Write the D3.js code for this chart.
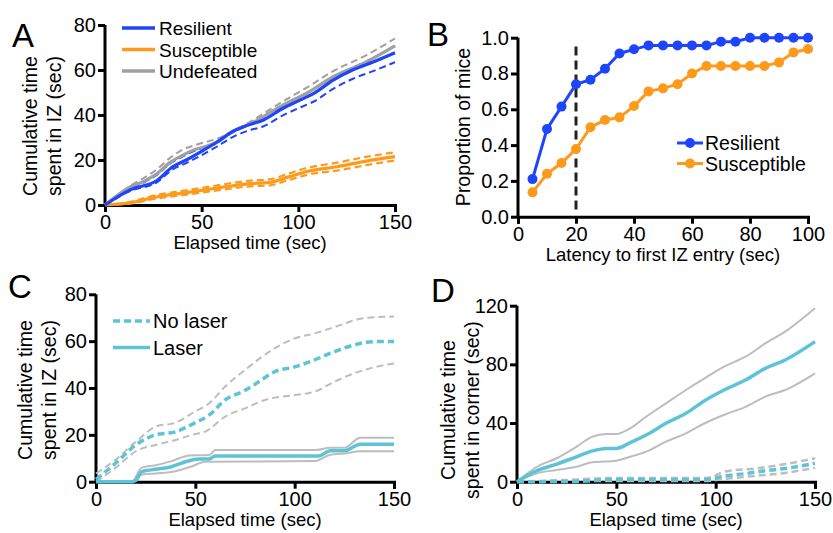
<!DOCTYPE html>
<html>
<head>
<style>
  body { margin: 0; background: #fff; }
  text { font-family: "Liberation Sans", Arial, sans-serif; fill: #000; }
</style>
</head>
<body>
<script src="https://d3js.org/d3.v7.min.js"></script>
<script>

const width = 833;
const height = 533;

const BLUE = '#1f45fc';
const ORANGE = '#fd9a1c';
const GRAY = '#a0a0a0';
const LGRAY = '#bdbdbd';
const CYAN = '#5cc4d6';

// ---- panel A: cumulative time in IZ, [time, value]
const aResilient = [[0,0],[13,6.7],[27,11],[35,17],[42,20],[51,24.4],[58,28],[66,32.6],[74,35.5],[82,37.8],[92,43],[101,46.7],[108,49.6],[118,55.5],[128,60],[139,63.7],[150,67.7]];
const aResilientLo = [[0,0],[13,6.2],[27,10.2],[35,15.8],[42,18.6],[51,22.6],[58,26],[66,30.2],[74,33],[82,35],[92,39.8],[101,43.4],[108,46],[118,51.6],[128,56],[139,59.6],[150,63.5]];
const aResilientHi = [[0,0],[13,7.4],[20,10],[27,13.5],[33,18],[40,21.5],[46,24],[52,25.8],[58,28],[66,32.6],[75,36.2],[92,44.4],[105,50],[118,57],[135,63.7],[150,70.6]];
const aUndefeated = [[0,0],[13,8],[20,10.5],[27,14],[33,18.5],[40,22],[46,24.5],[52,26],[58,28],[66,32.8],[75,36],[92,44.4],[105,50],[118,57],[135,63.5],[150,70.7]];
const aUndefeatedHi = [[0,0],[13,8.5],[20,12],[27,16],[33,20.5],[40,24.5],[48,27],[58,29.5],[75,37],[92,46],[105,52.5],[118,59.5],[135,66.5],[150,74]];
const aUndefeatedLo = [[0,0],[13,6.8],[27,11],[35,17],[42,20],[51,24.4],[58,27.6],[66,32.2],[74,35.3],[82,37.6],[92,42.8],[101,46.5],[108,49.4],[118,55.3],[128,59.8],[139,63.5],[150,67.5]];
const aSusceptible = [[0,0],[13,1],[26,3.5],[40,5.3],[50,6.5],[60,7.8],[75,9.5],[85,10],[95,12.5],[105,15],[120,17],[135,19.5],[150,21.5]];
const aSusceptibleHi = [[0,0],[13,1.4],[26,4.3],[40,6.3],[50,7.6],[60,9],[75,10.8],[85,11.4],[95,14],[105,16.6],[120,18.8],[135,21.4],[150,23.4]];
const aSusceptibleLo = [[0,0],[13,0.6],[26,2.8],[40,4.4],[50,5.5],[60,6.7],[75,8.3],[85,8.7],[95,11.1],[105,13.5],[120,15.3],[135,17.7],[150,19.8]];

// ---- panel B: proportion of mice by latency
const bLatency = [5,10,15,20,25,30,35,40,45,50,55,60,65,70,75,80,85,90,95,100];
const bResilient = [0.21,0.49,0.615,0.74,0.765,0.827,0.912,0.935,0.957,0.957,0.957,0.957,0.957,0.978,0.978,1,1,1,1,1];
const bSusceptible = [0.136,0.24,0.30,0.378,0.50,0.54,0.555,0.618,0.70,0.717,0.74,0.80,0.842,0.842,0.842,0.842,0.842,0.862,0.918,0.937];

// ---- panel C: cumulative time in IZ, laser vs no laser
const cNoLaser = [[0,1],[10,8],[20,15.7],[30,20],[40,21.3],[50,25.2],[57,28.5],[65,34.9],[75,39],[82,42.7],[90,47],[100,49],[110,52],[120,55.5],[130,58.4],[140,59.8],[150,59.8]];
const cNoLaserHi = [[0,3.5],[10,9.5],[20,17],[30,23.5],[40,25.2],[50,30],[57,33.5],[65,40.6],[75,47.7],[90,57],[100,61.2],[110,63.3],[120,66],[135,69.8],[150,70.5]];
const cNoLaserLo = [[0,0],[10,6],[20,13],[30,15.7],[40,17.8],[50,20.4],[55,21.4],[65,27.8],[75,31.3],[85,34.9],[100,37],[110,38.4],[120,42.7],[135,47.7],[150,50.5]];
const cLaser = [[0,0],[18,0],[20,0.5],[23,4.3],[30,5.3],[38,6.4],[45,8.5],[52,9.7],[57,9.7],[60,11],[112,11],[118,13.2],[125,13.2],[133,16],[150,16]];
const cLaserHi = [[0,0],[18,0],[23,6],[30,7],[38,8.8],[47,11.2],[57,11.4],[60,13.5],[110,13.5],[118,14.5],[125,14.5],[133,18.8],[150,18.8]];
const cLaserLo = [[0,0],[18,0],[23,3],[30,3.5],[40,4.5],[48,6.5],[55,8.5],[110,8.8],[118,11.5],[125,12],[133,13],[150,13]];

// ---- panel D: cumulative time in corner
const dLaser = [[0,0],[10,7.5],[20,12],[30,17],[38,21],[45,22.7],[50,22.7],[57,26.6],[65,31.8],[75,39.8],[85,46.6],[95,55.7],[105,63],[115,69.3],[125,77.3],[135,83],[150,95.5]];
const dLaserHi = [[0,0],[10,10.2],[20,16],[30,23.9],[38,30.7],[45,32.5],[50,32.5],[57,36.4],[65,44.3],[75,53.4],[85,62.5],[95,71],[105,78.9],[115,85.2],[125,94.3],[135,102.3],[150,118.2]];
const dLaserLo = [[0,0],[10,5.7],[20,8],[30,10.2],[38,13.2],[50,14.3],[57,17],[65,20.5],[75,27.3],[85,33],[95,40.2],[105,46],[115,51],[125,58],[135,62.5],[150,73.9]];
const dNoLaser = [[0,0],[30,0.2],[40,1],[50,1.5],[95,1.5],[105,4],[115,5.5],[125,7.5],[135,9],[150,12.5]];
const dNoLaserHi = [[0,0],[30,1.5],[45,2.5],[95,2.5],[105,7],[120,9],[135,12],[150,16]];
const dNoLaserLo = [[0,0],[40,0.5],[95,0.5],[105,2],[120,4],[135,6],[150,9.5]];

const timeTicks = [0, 50, 100, 150];

const svg = d3.select('body')
              .append('svg')
              .attr('width', width)
              .attr('height', height);

// draws axes + titles for one panel, returns scales
const panel = (opt) => {
  const x = d3.scaleLinear().domain(opt.xd).range(opt.xr);
  const y = d3.scaleLinear().domain(opt.yd).range(opt.yr);
  const g = svg.append('g');

  const xa = g.append('g')
    .attr('transform', `translate(0,${opt.yr[0]})`)
    .call(d3.axisBottom(x).tickValues(opt.xt).tickSize(7).tickPadding(3).tickFormat(opt.xf || d3.format('d')));
  const ya = g.append('g')
    .attr('transform', `translate(${opt.xr[0]},0)`)
    .call(d3.axisLeft(y).tickValues(opt.yt).tickSize(7).tickPadding(2).tickFormat(opt.yf || d3.format('d')));
  [xa, ya].forEach(a => {
    a.select('.domain').attr('stroke', '#000').attr('stroke-width', 3);
    a.selectAll('.tick line').attr('stroke', '#000').attr('stroke-width', 3);
    a.selectAll('.tick text').style('font-size', '20px').attr('fill', '#000');
  });
  ya.select('.domain').attr('d', `M0,${opt.yr[0] + 1.5}V${opt.yr[1]}`);

  g.append('text')
    .attr('x', (opt.xr[0] + opt.xr[1]) / 2)
    .attr('y', opt.yr[0] + 44)
    .attr('text-anchor', 'middle')
    .style('font-size', '18.5px')
    .text(opt.xlabel);

  opt.ylabel.forEach((t, i) => {
    g.append('text')
      .attr('transform', `translate(${opt.ylx + i * 24},${opt.yly}) rotate(-90)`)
      .attr('text-anchor', 'middle')
      .style('font-size', '19.5px')
      .text(t);
  });

  g.append('text')
    .attr('x', opt.lx).attr('y', opt.ly)
    .style('font-size', '33px')
    .text(opt.letter);

  return { x, y, g };
};

const drawLine = (p, data, color, w, dash) => {
  p.g.append('path')
    .datum(data)
    .attr('fill', 'none')
    .attr('stroke', color)
    .attr('stroke-width', w)
    .attr('stroke-dasharray', dash || null)
    .attr('d', d3.line().x(d => p.x(d[0])).y(d => p.y(d[1])).curve(d3.curveMonotoneX));
};

// ---------- A
const pA = panel({
  xd: [0, 150], xr: [105, 395], yd: [0, 80], yr: [205, 25],
  xt: timeTicks, yt: [0, 20, 40, 60, 80],
  xlabel: 'Elapsed time (sec)', ylabel: ['Cumulative time', 'spent in IZ (sec)'],
  ylx: 37, yly: 126, letter: 'A', lx: 12, ly: 47
});
drawLine(pA, aSusceptibleHi, ORANGE, 2.2, '7,4');
drawLine(pA, aSusceptibleLo, ORANGE, 2.2, '7,4');
drawLine(pA, aSusceptible, ORANGE, 3.2);
drawLine(pA, aResilientHi, BLUE, 2, '7,4');
drawLine(pA, aUndefeatedLo, GRAY, 2, '7,4');
drawLine(pA, aUndefeatedHi, GRAY, 2, '7,4');
drawLine(pA, aUndefeated, GRAY, 3.2);
drawLine(pA, aResilientLo, BLUE, 2, '7,4');
drawLine(pA, aResilient, BLUE, 3.2);

const legA = [['Resilient', BLUE], ['Susceptible', ORANGE], ['Undefeated', GRAY]];
legA.forEach((l, i) => {
  const yy = 28 + i * 21.5;
  pA.g.append('line').attr('x1', 122).attr('x2', 155).attr('y1', yy).attr('y2', yy)
    .attr('stroke', l[1]).attr('stroke-width', 3.5);
  pA.g.append('text').attr('x', 159).attr('y', yy + 7).style('font-size', '19px').text(l[0]);
});

// ---------- B
const pB = panel({
  xd: [0, 100], xr: [518, 808], yd: [0, 1], yr: [216.7, 37.7],
  xt: [0, 20, 40, 60, 80, 100], yt: [0, 0.2, 0.4, 0.6, 0.8, 1.0], yf: d3.format('.1f'),
  xlabel: 'Latency to first IZ entry (sec)', ylabel: ['Proportion of mice'],
  ylx: 470, yly: 127, letter: 'B', lx: 427, ly: 46
});
pB.g.append('line')
  .attr('x1', pB.x(20)).attr('x2', pB.x(20))
  .attr('y1', pB.y(0.04)).attr('y2', pB.y(0.97))
  .attr('stroke', '#222').attr('stroke-width', 3).attr('stroke-dasharray', '9,5');

[[bSusceptible, ORANGE], [bResilient, BLUE]].forEach(s => {
  const pts = bLatency.map((t, i) => [t, s[0][i]]);
  pB.g.append('path').datum(pts)
    .attr('fill', 'none').attr('stroke', s[1]).attr('stroke-width', 3)
    .attr('d', d3.line().x(d => pB.x(d[0])).y(d => pB.y(d[1])));
  pB.g.selectAll(null).data(pts).enter().append('circle')
    .attr('cx', d => pB.x(d[0])).attr('cy', d => pB.y(d[1])).attr('r', 5)
    .attr('fill', s[1]);
});
const legB = [['Resilient', BLUE], ['Susceptible', ORANGE]];
legB.forEach((l, i) => {
  const yy = 143 + i * 20.5;
  pB.g.append('line').attr('x1', 677).attr('x2', 703).attr('y1', yy).attr('y2', yy)
    .attr('stroke', l[1]).attr('stroke-width', 3);
  pB.g.append('circle').attr('cx', 690).attr('cy', yy).attr('r', 5).attr('fill', l[1]);
  pB.g.append('text').attr('x', 705).attr('y', yy + 7).style('font-size', '19.5px').text(l[0]);
});

// ---------- C
const pC = panel({
  xd: [0, 150], xr: [96, 394], yd: [0, 80], yr: [481.7, 294.3],
  xt: timeTicks, yt: [0, 20, 40, 60, 80],
  xlabel: 'Elapsed time (sec)', ylabel: ['Cumulative time', 'spent in IZ (sec)'],
  ylx: 32, yly: 390, letter: 'C', lx: 8, ly: 298
});
drawLine(pC, cNoLaserHi, LGRAY, 2, '7,4');
drawLine(pC, cNoLaserLo, LGRAY, 2, '7,4');
drawLine(pC, cNoLaser, CYAN, 3.5, '7,4');
drawLine(pC, cLaserHi, LGRAY, 2);
drawLine(pC, cLaserLo, LGRAY, 2);
drawLine(pC, cLaser, CYAN, 3.5);

const legC = [['No laser', '7,4'], ['Laser', null]];
legC.forEach((l, i) => {
  const yy = 321 + i * 26.5;
  pC.g.append('line').attr('x1', 113).attr('x2', 150).attr('y1', yy).attr('y2', yy)
    .attr('stroke', CYAN).attr('stroke-width', 3.5).attr('stroke-dasharray', l[1]);
  pC.g.append('text').attr('x', 153).attr('y', yy + 7).style('font-size', '20px').text(l[0]);
});

// ---------- D
const pD = panel({
  xd: [0, 150], xr: [517, 815], yd: [0, 120], yr: [481.7, 305.7],
  xt: timeTicks, yt: [0, 40, 80, 120],
  xlabel: 'Elapsed time (sec)', ylabel: ['Cumulative time', 'spent in corner (sec)'],
  ylx: 455, yly: 410, letter: 'D', lx: 431, ly: 302
});
drawLine(pD, dNoLaserHi, LGRAY, 2.5, '7,4');
drawLine(pD, dNoLaserLo, LGRAY, 2.5, '7,4');
drawLine(pD, dNoLaser, CYAN, 3.5, '7,4');
drawLine(pD, dLaserHi, LGRAY, 2);
drawLine(pD, dLaserLo, LGRAY, 2);
drawLine(pD, dLaser, CYAN, 3.5);

</script>
</body>
</html>
